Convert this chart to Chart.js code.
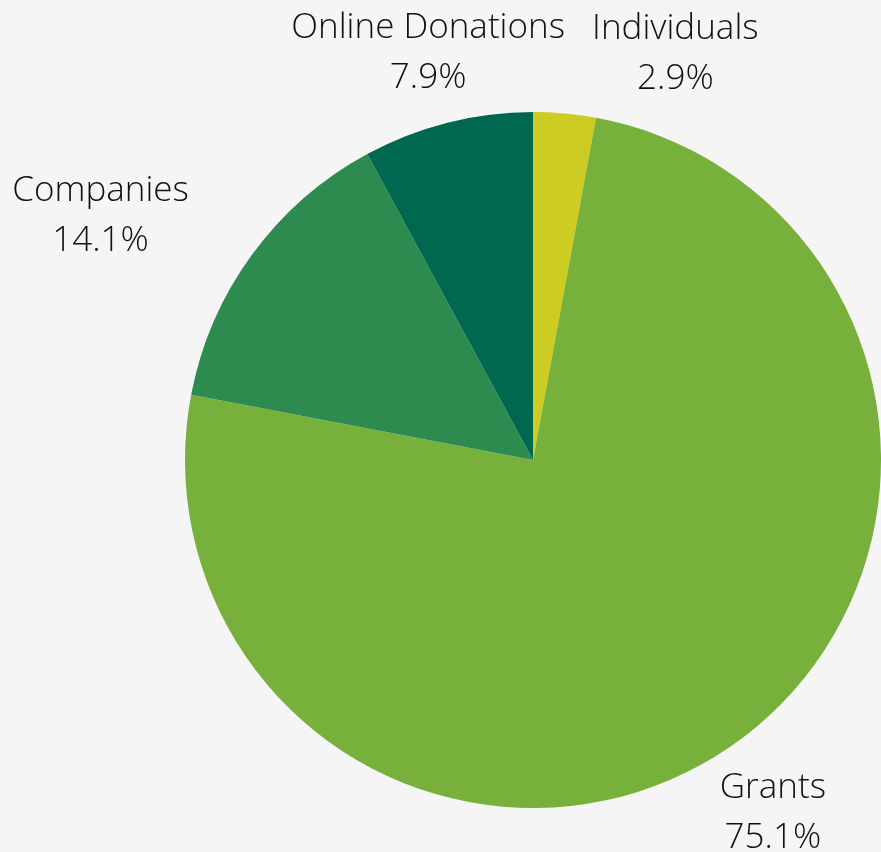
<!DOCTYPE html>
<html>
<head>
<meta charset="utf-8">
<script src="https://cdn.jsdelivr.net/npm/chart.js@4/dist/chart.umd.min.js"></script>
<style>
  html, body { margin: 0; padding: 0; background: #f5f5f5; }
  #wrap { width: 881px; height: 852px; position: relative; }
</style>
</head>
<body>
<div id="wrap"><canvas id="chart"></canvas></div>
<script>
// Funding sources, clockwise from 12 o'clock
const labels = ['Individuals', 'Grants', 'Companies', 'Online Donations'];
const shares = [2.9, 75.1, 14.1, 7.9];
const colors = ['#cdcc22', '#77b03b', '#2e8b4f', '#00684f'];

// label nudges (px) away from the radial anchor point
const labelNudges = [[105, 3], [8, 14], [-101, -2], [-4, -9]];

// Draw "name / value%" outside each slice
const outsideLabels = {
  id: 'outsideLabels',
  afterDatasetsDraw(chart) {
    const ctx = chart.ctx;
    const meta = chart.getDatasetMeta(0);
    ctx.save();
    ctx.font = '300 35px "Open Sans"';
    ctx.fillStyle = '#111111';
    ctx.textAlign = 'center';
    ctx.textBaseline = 'middle';
    meta.data.forEach((arc, i) => {
      const p = arc.getProps(['x', 'y', 'startAngle', 'endAngle', 'outerRadius'], true);
      const mid = (p.startAngle + p.endAngle) / 2;
      const d = p.outerRadius * 1.18;
      const x = p.x + Math.cos(mid) * d + labelNudges[i][0];
      const y = p.y + Math.sin(mid) * d + labelNudges[i][1];
      ctx.fillText(labels[i], x, y - 25);
      ctx.fillText(shares[i].toFixed(1) + '%', x, y + 25);
    });
    ctx.restore();
  }
};

new Chart(document.getElementById('chart'), {
  type: 'pie',
  data: {
    labels: labels,
    datasets: [{
      data: shares,
      backgroundColor: colors,
      borderWidth: 0
    }]
  },
  options: {
    responsive: true,
    maintainAspectRatio: false,
    animation: false,
    layout: { padding: { left: 185, right: 0, top: 112, bottom: 44 } },
    plugins: {
      legend: { display: false },
      tooltip: { enabled: false }
    }
  },
  plugins: [outsideLabels]
});
</script>
</body>
</html>
